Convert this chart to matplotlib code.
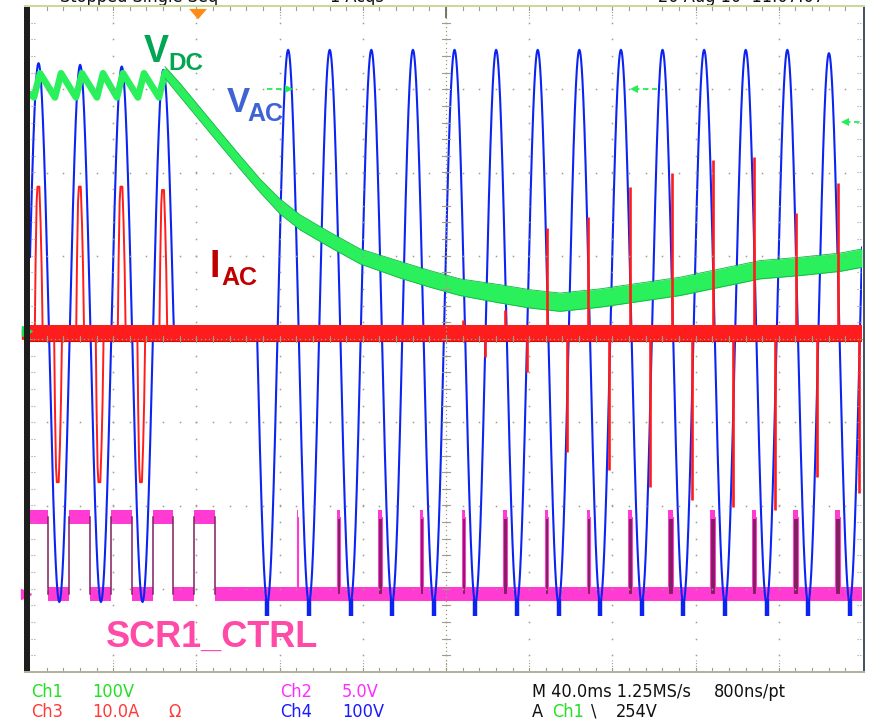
import numpy as np
import matplotlib
matplotlib.use("Agg")
import matplotlib.pyplot as plt
from matplotlib.patches import Polygon, Rectangle
from matplotlib import font_manager as fm

# ---------------- data read from the scope capture ----------------
# time axis: 40 ms/div, 10 divisions
# Ch4  V_AC (V, 100 V/div): extrema of mains voltage, 0 = edges of the dropout
vac_t = [-5.9, 4.1, 14.1, 24.1, 34.1, 44.1, 54.1, 64.1, 69.1, 109.1,
         114.1, 124.1, 134.1, 144.1, 154.1, 164.1, 174.1, 184.1, 194.1, 204.1,
         214.1, 224.1, 234.1, 244.1, 254.1, 264.1, 274.1, 284.1, 294.1, 304.1,
         314.1, 324.1, 334.1, 344.1, 354.1, 364.1, 374.1, 384.1, 394.1, 404.1]
vac_v = [-327, 318, -329, 316, -329, 314, -329, 310, 0, 0,
         -330, 334, -330, 334, -330, 334, -330, 334, -330, 334,
         -330, 334, -330, 334, -330, 334, -330, 334, -330, 334,
         -330, 334, -330, 334, -330, 334, -330, 330, -330, 334]
vac_blob_t = [114.1, 134.1, 154.1, 174.1, 194.1, 214.1, 234.1, 254.1,
              274.1, 294.1, 314.1, 334.1, 354.1, 374.1, 394.1]
vac_blob_v = -346

# Ch1  V_DC (V, 100 V/div)
vdc_t1 = [0, 1.9, 4.8, 12.0, 14.9, 22.1, 25.0, 32.2, 35.1, 41.8, 44.7, 51.9, 54.8, 62.0, 64.9]
vdc_v1 = [287, 283, 312, 283, 312, 283, 312, 283, 312, 283, 312, 283, 312, 283, 313]
vdc_t2 = [64.9, 72.1, 81.7, 91.3, 101.0, 110.6, 120.2, 129.8, 144.2, 158.7, 177.9, 192.3,
          206.7, 226.0, 240.4, 254.8, 274.0, 293.3, 312.5, 331.7, 351.0, 370.2, 389.4, 400.0]
vdc_v2 = [313, 292, 263, 234, 205, 177, 152, 133, 112, 92, 76, 65,
          55, 47, 41, 37, 42, 49, 56, 66, 76, 80, 85, 90]
vdc_w2 = [7, 8, 8, 8, 8, 8, 9, 9, 9, 9, 10, 10,
          10, 11, 11, 11, 11, 11, 11, 11, 11, 11, 11, 11]

# Ch3  I_AC (A, 10 A/div)
iac_pulse_t = [4.2, 13.5, 24.1, 33.5, 44.1, 53.5, 64.1]
iac_pulse_a = [17.7, -17.8, 17.7, -17.8, 17.7, -17.8, 17.3]
iac_spike_t = [208.2, 218.8, 228.4, 238.9, 248.6, 258.2, 268.3, 278.4, 288.5, 298.1,
               308.7, 318.3, 328.4, 338.0, 348.1, 358.2, 368.3, 378.4, 388.5, 398.6]
iac_spike_a = [1.7, -2.8, 2.9, -4.6, 12.7, -14.2, 14.1, -16.3, 17.7, -18.4,
               19.3, -19.9, 20.9, -20.8, 21.3, -21.1, 14.5, -17.2, 18.1, -19.1]

# Ch2  SCR1_CTRL (V, 5 V/div)
scr_hi_start = [0, 18.8, 38.9, 59.1, 78.8]
scr_hi_end = [8.7, 28.8, 49.0, 68.8, 88.9]
scr_pulse_t = [128.2, 147.4, 167.5, 187.5, 207.5, 227.6, 247.6, 267.6, 287.6, 306.7,
               327.0, 347.0, 366.8, 387.0]
scr_pulse_w = [0.8, 1.6, 1.6, 1.6, 1.6, 1.6, 1.6, 1.6, 1.7, 2.3, 2.2, 2.2, 2.2, 2.2]
scr_hi_v = 4.6

trigger_t = 80.8

# channel settings: (volts per div, ground position in div)
ch1 = (100.0, 0.072)
ch2 = (5.0, -3.063)
ch3 = (10.0, 0.060)
ch4 = (100.0, 0.132)


def todiv(v, ch):
    return ch[1] + np.asarray(v, dtype=float) / ch[0]


# ---------------- figure ----------------
W, H = 874, 721
fig = plt.figure(figsize=(W / 100, H / 100), dpi=100)
fig.patch.set_facecolor("white")
ax = fig.add_axes([30 / W, 49 / H, 832 / W, 666 / H])
ax.set_xlim(0, 400)
ax.set_ylim(-4, 4)
ax.axis("off")

names = {f.name for f in fm.fontManager.ttflist}
narrow = "Liberation Sans Narrow" if "Liberation Sans Narrow" in names else "DejaVu Sans"
bold = "Liberation Sans" if "Liberation Sans" in names else "DejaVu Sans"

GREEN = "#2af05c"
GREEN_E = "#14b446"
RED = "#ff1c1c"
BLUE = "#0c24f2"
MAG = "#ff3bd4"
PURP = "#80205f"

# ---------------- Ch2 SCR1_CTRL ----------------
hb = 0.085
lo = todiv(0, ch2)
hi = todiv(scr_hi_v, ch2)
lows = []
prev = scr_hi_end[0]
for s, e in zip(scr_hi_start[1:], scr_hi_end[1:]):
    lows.append((prev, s))
    prev = e
lows.append((prev, 400))
for a, b in lows:
    ax.fill_between([a, b], lo - hb, lo + hb, color=MAG, lw=0, zorder=2)
for a, b in zip(scr_hi_start, scr_hi_end):
    ax.fill_between([a, b], hi - 0.08, hi + 0.085, color=MAG, lw=0, zorder=2)
    for x in (a, b):
        if 0 < x < 400:
            ax.plot([x, x], [lo, hi], color=PURP, lw=1.1, zorder=2)
for t, w in zip(scr_pulse_t, scr_pulse_w):
    ax.add_patch(Rectangle((t, lo), w, hi - lo, facecolor=PURP, edgecolor=MAG,
                           lw=0.8, zorder=2))
    ax.fill_between([t, t + w], hi - 0.02, hi + 0.085, color=MAG, lw=0, zorder=2)

# ---------------- Ch4 V_AC ----------------
tt = np.arange(-6, 404, 0.02)
vv = np.zeros_like(tt)
for i in range(len(vac_t) - 1):
    ta, tb, va, vb = vac_t[i], vac_t[i + 1], vac_v[i], vac_v[i + 1]
    m = (tt >= ta) & (tt <= tb)
    f = (tt[m] - ta) / (tb - ta)
    if va == 0 and vb == 0:
        seg = np.zeros_like(f)
    elif va == 0:
        seg = vb * np.sin(np.pi / 2 * f)
    elif vb == 0:
        seg = va * np.cos(np.pi / 2 * f)
    else:
        seg = (va + vb) / 2 + (va - vb) / 2 * np.cos(np.pi * f)
    vv[m] = seg
ax.plot(tt, todiv(vv, ch4), color=BLUE, lw=1.5, zorder=3, solid_joinstyle="miter")
for t in vac_blob_t:
    ax.plot([t, t], todiv([-326, vac_blob_v], ch4), color=BLUE, lw=3.2, zorder=3,
            solid_capstyle="butt")

# ---------------- Ch1 V_DC ----------------
ax.plot(vdc_t1, todiv(vdc_v1, ch1), color=GREEN, lw=4.8, zorder=4,
        solid_joinstyle="round", solid_capstyle="round")
t2 = np.array(vdc_t2)
c2 = np.array(vdc_v2, dtype=float)
w2 = np.array(vdc_w2, dtype=float)
ax.fill_between(t2, todiv(c2 - w2, ch1), todiv(c2 + w2, ch1), color=GREEN, lw=0, zorder=4)
ax.plot(t2, todiv(c2 + w2, ch1), color=GREEN_E, lw=0.6, zorder=4)
ax.plot(t2, todiv(c2 - w2, ch1), color=GREEN_E, lw=0.6, zorder=4)

# ---------------- Ch3 I_AC ----------------
g3 = todiv(0, ch3)
ax.fill_between([0, 400], g3 - 0.09, g3 + 0.105, color=RED, lw=0, zorder=5)
ax.plot([0, 400], [g3 - 0.09, g3 - 0.09], color="#c81010", lw=0.8, zorder=5)
shape_dt = [-1.9, -1.5, -1.0, -0.6, 0.3, 0.9, 1.4, 1.9]
shape_f = [0, 0.5, 0.9, 1.0, 1.0, 0.75, 0.45, 0]
for t, a in zip(iac_pulse_t, iac_pulse_a):
    ax.plot(np.add(t, shape_dt), todiv(np.multiply(a, shape_f), ch3), color=RED,
            lw=1.4, zorder=5)
for t, a in zip(iac_spike_t, iac_spike_a):
    ax.plot([t, t], todiv([0, a], ch3), color=RED, lw=1.9, zorder=5,
            solid_capstyle="butt")

# ---------------- graticule ----------------
gridc = "#a39b86"
xmaj = np.arange(0, 400.1, 40)
ymaj = np.arange(-4, 4.01, 1)
minor_x = np.arange(0, 400.1, 8)
minor_y = np.arange(-4, 4.001, 0.2)
gx, gy = [], []
for xm in xmaj[1:-1]:
    for yv in minor_y[1:-1]:
        gx.append(xm); gy.append(yv)
for ym in ymaj[1:-1]:
    for xv in minor_x[1:-1]:
        gx.append(xv); gy.append(ym)
ax.plot(gx, gy, ls="none", marker="s", ms=1.1, mew=0, color=gridc, zorder=7)
for xv in minor_x[1:-1]:
    ax.plot([xv, xv], [4, 3.95], color=gridc, lw=0.8, zorder=7)
    ax.plot([xv, xv], [-4, -3.95], color=gridc, lw=0.8, zorder=7)
for xm in xmaj[1:-1]:
    ax.plot([xm, xm], [4, 3.86], color=gridc, lw=0.8, ls=(0, (1, 1.5)), zorder=7)
    ax.plot([xm, xm], [-4, -3.86], color=gridc, lw=0.8, ls=(0, (1, 1.5)), zorder=7)
for yv in minor_y[1:-1]:
    ax.plot([0.6, 2.2], [yv, yv], color=gridc, lw=0.8, ls=(0, (1, 1.5)), zorder=7)
    ax.plot([397.8, 399.4], [yv, yv], color=gridc, lw=0.8, ls=(0, (1, 1.5)), zorder=7)
cy = np.arange(-4, 4.001, 0.05)
ax.plot(np.full_like(cy, 200), cy, ls="none", marker="s", ms=0.9, mew=0, color=gridc, zorder=7)
for yv in minor_y[1:-1]:
    ax.plot([198.2, 201.8], [yv, yv], color=gridc, lw=0.8, zorder=7)
cx = np.arange(0, 400.1, 2)
ax.plot(cx, np.zeros_like(cx), ls="none", marker="s", ms=0.9, mew=0, color=gridc, zorder=7)
for xv in minor_x[1:-1]:
    ax.plot([xv, xv], [-0.04, 0.04], color=gridc, lw=0.8, zorder=7)
ax.plot([200, 200], [4, 3.87], color="#7a7466", lw=1.4, zorder=7)


# ---------------- frame ----------------
def fx(x):
    return x / W


def fy(y):
    return 1 - y / H


fig.add_artist(Rectangle((fx(24), fy(673)), 6 / W, 667 / H, transform=fig.transFigure,
                         facecolor="#1e1e1e", edgecolor="none", zorder=10))
fig.add_artist(Rectangle((fx(862.5), fy(673)), 2.2 / W, 667 / H, transform=fig.transFigure,
                         facecolor="#46546a", edgecolor="none", zorder=10))
fig.add_artist(Rectangle((fx(24), fy(6.5)), 841 / W, 2 / H, transform=fig.transFigure,
                         facecolor="#c9d99e", edgecolor="none", zorder=10))
fig.add_artist(Rectangle((fx(24), fy(673)), 841 / W, 2 / H, transform=fig.transFigure,
                         facecolor="#b3b39b", edgecolor="none", zorder=10))

# channel ground markers
ax.plot([-1.6], [todiv(0, ch3)], marker=">", ms=7, color=RED, clip_on=False, zorder=11)
ax.plot([-1.6], [todiv(0, ch1) + 0.03], marker=">", ms=7, color="#18e050", clip_on=False, zorder=11)
ax.plot([-1.9], [todiv(0, ch2)], marker=">", ms=7, color=MAG, clip_on=False, zorder=11)

# trigger position marker
ax.add_patch(Polygon([[trigger_t - 4.3, 3.965], [trigger_t + 4.3, 3.965], [trigger_t, 3.84]],
                     closed=True, facecolor="#ff8a14", edgecolor="none", clip_on=False, zorder=11))


# level indicators (green dashed arrows)
def level_arrow(t0, t1, y, direction):
    ax.plot([t0, t1], [y, y], color="#22ee55", lw=1.3, ls=(0, (3, 2)), zorder=8)
    tip = t1 if direction == ">" else t0
    ax.plot([tip], [y], marker=direction, ms=6, color="#22ee55", mew=0, zorder=8)


level_arrow(113.9, 124.5, 3.0, ">")
level_arrow(290.5, 301.4, 3.0, "<")
level_arrow(392.0, 400.0, 2.61, "<")


# ---------------- labels ----------------
def lab(x, y, s, size, color):
    fig.text(fx(x), fy(y), s, fontsize=size, color=color, fontweight="bold",
             family=[bold, "DejaVu Sans"], ha="left", va="baseline", zorder=12)


lab(144, 62, "V", 27, "#00a651")
lab(168, 70, "DC", 17.5, "#00a651")
lab(227, 112, "V", 25, "#3f63d4")
lab(247, 121, "AC", 18, "#3f63d4")
lab(210, 277, "I", 27, "#c00000")
lab(221, 285, "AC", 18, "#c00000")
lab(106, 647, "SCR1_CTRL", 26, "#ff4aa8")


# ---------------- status text ----------------
def st(x, y, s, color, size=13):
    fig.text(fx(x), fy(y), s, fontsize=size, color=color, family=[narrow, "DejaVu Sans"],
             fontstretch="condensed", ha="left", va="baseline")


st(31, 697, "Ch1", "#22e022")
st(92, 697, "100V", "#22e022")
st(280, 697, "Ch2", "#ff2cff")
st(342, 697, "5.0V", "#ff2cff")
st(532, 697, "M 40.0ms 1.25MS/s", "#111111")
st(714, 697, "800ns/pt", "#111111")
st(31, 717, "Ch3", "#ff3a3a")
st(92, 717, "10.0A", "#ff3a3a")
st(168, 717, "\u03a9", "#ff3a3a")
st(280, 717, "Ch4", "#1a1aff")
st(342, 717, "100V", "#1a1aff")
st(532, 717, "A", "#111111")
st(552, 717, "Ch1", "#22e022")
st(591, 717, "\\", "#111111")
st(616, 717, "254V", "#111111")

# top status line, cut off by the edge of the capture as in the original
st(60, 1.8, "Stopped Single Seq", "#111111")
st(330, 1.8, "1 Acqs", "#111111")
st(658, 1.8, "20 Aug 10  11:07:07", "#111111")

fig.savefig("out.png", dpi=100, facecolor="white")
